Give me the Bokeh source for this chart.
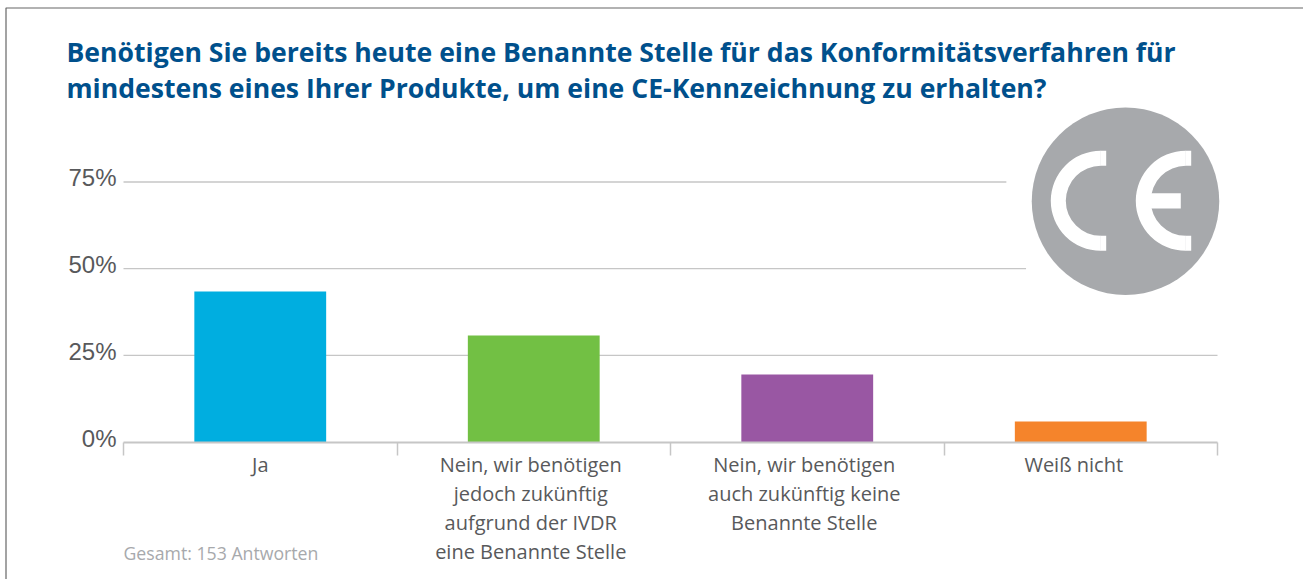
from math import pi
from bokeh.plotting import figure
from bokeh.embed import file_html
from bokeh.resources import INLINE
from bokeh.models import Range1d, Label, LinearAxis, FixedTicker, BoxAnnotation
from bokeh.core.properties import value

title_lines = ["Benötigen Sie bereits heute eine Benannte Stelle für das Konformitätsverfahren für",
               "mindestens eines Ihrer Produkte, um eine CE-Kennzeichnung zu erhalten?"]
categories = ["Ja", "Nein, wir benötigen\njedoch zukünftig\naufgrund der IVDR\neine Benannte Stelle",
              "Nein, wir benötigen\nauch zukünftig keine\nBenannte Stelle", "Weiß nicht"]
values = [43.4, 30.7, 19.5, 5.9]
colors = ["#00aee0", "#72c044", "#9957a3", "#f5842b"]
y_ticks = [0, 25, 50, 75]
y_tick_labels = ["0%", "25%", "50%", "75%"]
grid_ends = [4.0, 4.0, 3.30, 3.228]
note = "Gesamt: 153 Antworten"

W, H = 1303, 579
X0, CAT = 123.0, 273.5
Y0, PCT = 441.5, 3.467
px = lambda v: (v - X0) / CAT
py = lambda v: (Y0 - v) / PCT

p = figure(width=W, height=H, output_backend="svg", toolbar_location=None,
           x_range=Range1d(px(0), px(W)), y_range=Range1d(py(H), py(0)),
           min_border=0, x_axis_type=None, y_axis_type=None,
           outline_line_color=None, background_fill_color="white",
           border_fill_color="white")
p.styles = {"position": "absolute", "left": "0px", "top": "0px"}
p.grid.visible = False

# frame of the page
p.add_layout(BoxAnnotation(left=5.5, right=W + 5, top=H - 7.5, bottom=-5, left_units="screen", right_units="screen",
                           top_units="screen", bottom_units="screen", fill_alpha=0, line_alpha=1,
                           line_color="#666666", line_width=1.2))

# gridlines
p.segment(x0=[0] * 3, x1=grid_ends[1:], y0=y_ticks[1:], y1=y_ticks[1:], line_color="#c6c6c6", line_width=1.3)

# bars
xs = [i + 0.5 for i in range(len(values))]
p.vbar(x=xs, top=values, width=0.482, bottom=0, fill_color=colors, line_color=None)

# axis
xa = LinearAxis(ticker=FixedTicker(ticks=[0, 1, 2, 3, 4]), fixed_location=0, bounds=(0, 4),
                axis_line_color="#c6c6c6", axis_line_width=2, major_tick_line_color="#c6c6c6",
                major_tick_line_width=1.5, major_tick_out=13, major_tick_in=0, minor_tick_line_color=None,
                major_label_text_font_size="0px", major_label_text_color=None)
p.add_layout(xa, "below")

# tick labels
p.text(x=[0] * 4, y=y_ticks, text=y_tick_labels, x_offset=-7, y_offset=-4, text_align="right",
       text_baseline="middle", text_font=value("Liberation Sans"), text_font_size="24px", text_color="#58595b")
p.text(x=xs, y=[0] * 4, text=categories, x_offset=[0, -3, -3, -7], y_offset=9, text_align="center",
       text_baseline="top", text_font=value("Open Sans"), text_font_size="20px", text_color="#58595b",
       text_line_height=1.08)

# CE logo
cx, cy = px(1125), py(200.7)
p.scatter(x=[cx], y=[cy], size=187.5, marker="circle", fill_color="#a7a9ac", line_color=None)
p.annular_wedge(x=[px(1100.3), px(1185.3)], y=[py(200.3)] * 2, inner_radius=35, outer_radius=50,
                inner_radius_units="screen", outer_radius_units="screen",
                start_angle=pi / 2, end_angle=3 * pi / 2, fill_color="white", line_color=None)
p.quad(left=[px(1100), px(1100), px(1185), px(1185), px(1149)],
       right=[px(1105.7), px(1105.7), px(1190.7), px(1190.7), px(1180.3)],
       top=[py(150.3), py(235.3), py(150.3), py(235.3), py(192.7)],
       bottom=[py(165.3), py(250.3), py(165.3), py(250.3), py(208)],
       fill_color="white", line_color=None)

# texts
for text, base in zip(title_lines, [51, 87]):
    p.add_layout(Label(x=66, y=H - base, x_units="screen", y_units="screen", text=text,
                       text_font="Open Sans", text_font_style="bold", text_font_size="26.6px",
                       text_color="#00508c", text_baseline="alphabetic"))
p.add_layout(Label(x=123, y=H - 552, x_units="screen", y_units="screen", text=note, text_font="Open Sans",
                   text_font_size="17.7px", text_color="#a7a9ac", text_baseline="alphabetic"))

open("out.html", "w").write(file_html(p, INLINE))
